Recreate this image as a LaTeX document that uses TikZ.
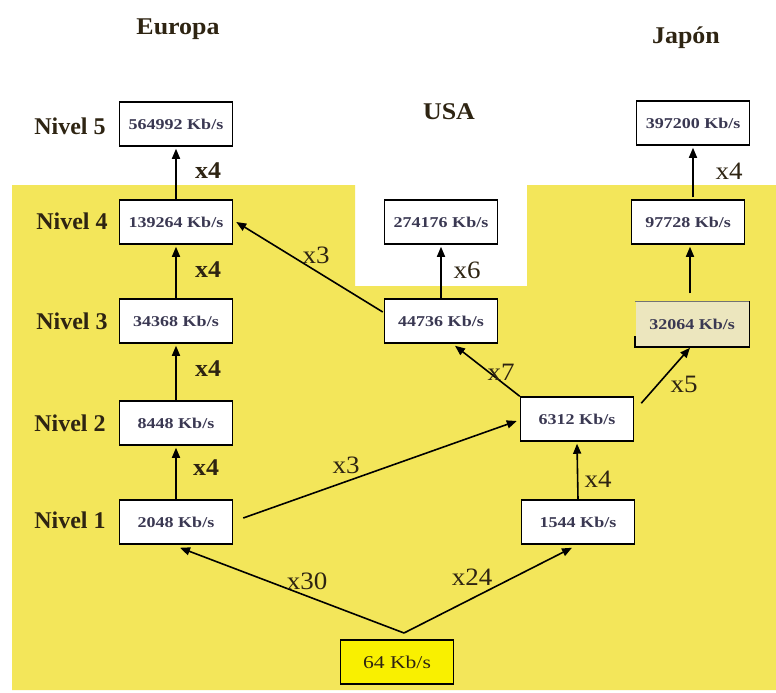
\documentclass[tikz,border=0pt]{standalone}
\usepackage{fontspec}
\setmainfont{Liberation Serif}
\newfontfamily\wide[FakeStretch=1.2]{Liberation Serif}
\newfontfamily\semi[FakeStretch=1.08]{Liberation Serif}
\usetikzlibrary{arrows.meta}
\definecolor{bgyel}{HTML}{F3E65A}
\definecolor{boxyel}{HTML}{F9F000}
\definecolor{boxtxt}{HTML}{3A3852}
\definecolor{lbltxt}{HTML}{2E2412}
\definecolor{beige}{HTML}{ECE6BE}
\tikzset{
  rate/.style={draw=black, line width=1.5pt, fill=white, minimum width=113pt,
    minimum height=44pt, inner sep=0pt, text=boxtxt,
    font=\wide\bfseries\fontsize{15}{15}\selectfont},
  level/.style={text=lbltxt, font=\bfseries\fontsize{24}{24}\selectfont},
  region/.style={text=lbltxt, font=\semi\bfseries\fontsize{24}{24}\selectfont},
  mulb/.style={text=lbltxt, font=\semi\bfseries\fontsize{24}{24}\selectfont},
  mul/.style={text=lbltxt, font=\semi\fontsize{25}{25}\selectfont},
  arr/.style={line width=1.6pt, -{Triangle[length=10pt,width=8pt]}},
}
\begin{document}
\begin{tikzpicture}[x=1pt,y=-1pt]
\useasboundingbox (0,0) rectangle (776,693);
\fill[white] (0,0) rectangle (776,693);
\fill[bgyel] (12,185) -- (355,185) -- (355,286) -- (527,286) -- (527,185)
  -- (776,185) -- (776,690) -- (12,690) -- cycle;

% titles
\node[region] (europa) at (178,29) {Europa};
\node[region] (usa) at (449,112) {USA};
\node[region] (japon) at (686,38) {Japón};

% level labels
\node[level] (n5) at (70,126) {Nivel 5};
\node[level] (n4) at (72,221) {Nivel 4};
\node[level] (n3) at (72,321) {Nivel 3};
\node[level] (n2) at (70,423) {Nivel 2};
\node[level] (n1) at (70,520) {Nivel 1};

% Europe
\node[rate] (e5) at (176,124) {564992 Kb/s};
\node[rate] (e4) at (176,222) {139264 Kb/s};
\node[rate] (e3) at (176,321) {34368 Kb/s};
\node[rate] (e2) at (176,423) {8448 Kb/s};
\node[rate] (e1) at (176,522) {2048 Kb/s};

% USA
\node[rate] (u3) at (441,222) {274176 Kb/s};
\node[rate] (u2) at (441,321) {44736 Kb/s};
\node[rate] (u1) at (577,419) {6312 Kb/s};
\node[rate] (u0) at (578,522) {1544 Kb/s};

% Japan
\node[rate] (j5) at (693,123) {397200 Kb/s};
\node[rate] (j4) at (688,222) {97728 Kb/s};
\node[rate, draw=none, fill=beige] (j3) at (692,324) {32064 Kb/s};
\draw[line width=1.5pt, black!55] (j3.north west) -- (j3.north east);
\draw[line width=1.5pt] (j3.north east) -- (j3.south east) -- (j3.south west) -- ([yshift=-12pt]j3.west);

% base
\node[rate, fill=boxyel, text=lbltxt, font=\wide\fontsize{18}{18}\selectfont] (b) at (397,662) {64 Kb/s};
\coordinate (apex) at (404,633);

% arrows Europe
\draw[arr] (e4.north) -- ([yshift=-2pt]e5.south);
\draw[arr] (e3.north) -- ([yshift=-2pt]e4.south);
\draw[arr] (e2.north) -- ([yshift=-2pt]e3.south);
\draw[arr] (e1.north) -- ([yshift=-2pt]e2.south);
% arrows USA
\draw[arr] (u2.north) -- ([yshift=-2pt]u3.south);
\draw[arr] (u0.north) -- ([yshift=-2pt]u1.south);
\draw[arr] (u1.north west) -- ([xshift=14pt,yshift=-2pt]u2.south);
\draw[arr] ([xshift=-1pt,yshift=9pt]u2.west) -- ([xshift=3pt]e4.east);
\draw[arr] ([xshift=10pt,yshift=4pt]e1.east) -- ([xshift=-3pt,yshift=-2pt]u1.west);
% arrows Japan
\draw[arr] ([xshift=7pt,yshift=-7pt]u1.north east) -- ([xshift=-2pt,yshift=-1pt]j3.south);
\draw[arr] ([xshift=-2pt,yshift=8pt]j3.north) -- ([xshift=2pt,yshift=-2pt]j4.south);
\draw[arr] ([xshift=5pt,yshift=2pt]j4.north) -- ([yshift=-2pt]j5.south);
% base arrows
\draw[arr] (apex) -- ([xshift=4pt,yshift=-3pt]e1.south);
\draw[arr] (apex) -- ([xshift=-6pt,yshift=-3pt]u0.south);

% multipliers
\node[mulb] (m1) at (208,171) {x4};
\node[mulb] (m2) at (208,270) {x4};
\node[mulb] (m3) at (208,369) {x4};
\node[mulb] (m4) at (206,468) {x4};
\node[mul] (m5) at (316,255) {x3};
\node[mul] (m6) at (346,465) {x3};
\node[mul] (m7) at (467,270) {x6};
\node[mul] (m8) at (501,372) {x7};
\node[mul] (m9) at (598,479) {x4};
\node[mul] (m10) at (684,384) {x5};
\node[mul] (m11) at (729,171) {x4};
\node[mul] (m12) at (307,581) {x30};
\node[mul] (m13) at (472,577) {x24};
\end{tikzpicture}
\end{document}
